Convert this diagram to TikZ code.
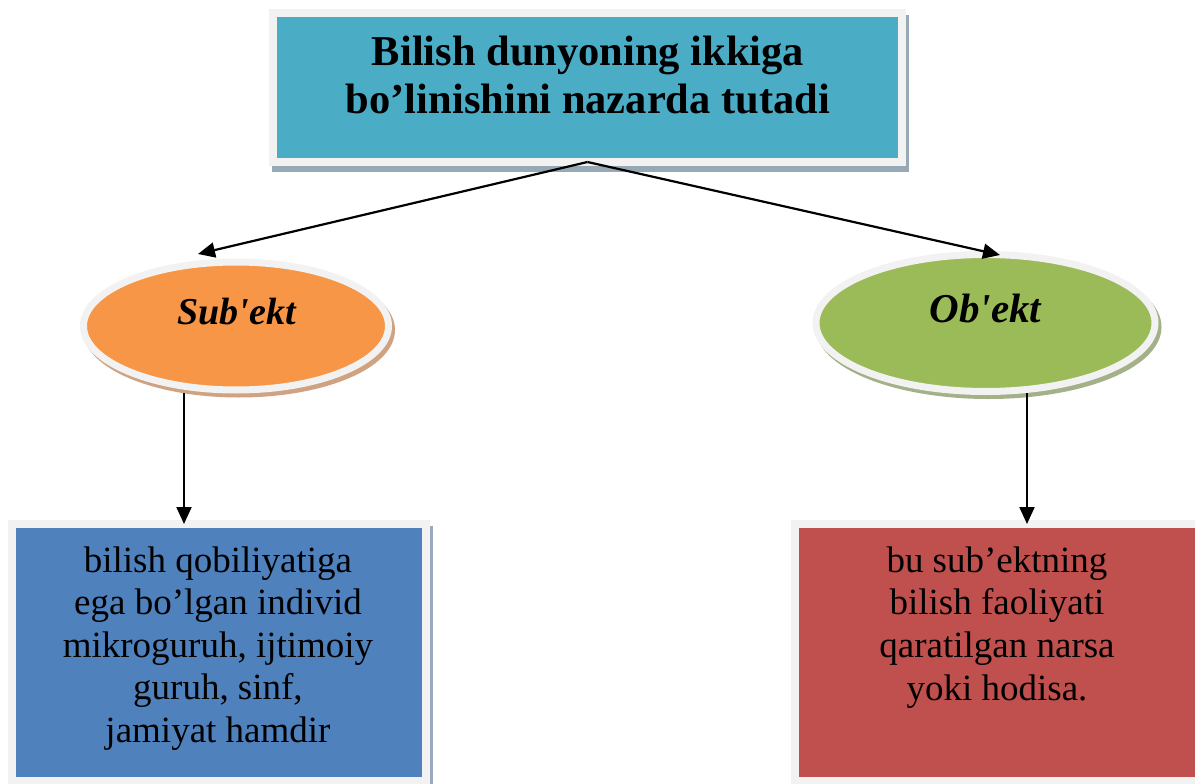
\documentclass[tikz,border=0pt]{standalone}
\usepackage{fontspec}
\newfontfamily\lserif{Liberation Serif}
\usetikzlibrary{shapes.geometric,shadows,arrows.meta}
\definecolor{topfill}{HTML}{4BACC6}
\definecolor{rim}{HTML}{F2F2F2}
\definecolor{topshadow}{HTML}{97A9B5}
\definecolor{orangefill}{HTML}{F79646}
\definecolor{orangeshadow}{HTML}{CFA382}
\definecolor{greenfill}{HTML}{9BBB59}
\definecolor{greenshadow}{HTML}{A3B088}
\definecolor{bluefill}{HTML}{4F81BD}
\definecolor{blueshadow}{HTML}{9AA9BE}
\definecolor{redfill}{HTML}{C0504D}
\tikzset{
  boxshape/.style={rectangle, draw=rim, line width=8pt, outer sep=0pt, inner sep=0pt},
  ovalshape/.style={ellipse, draw=rim, line width=7pt, outer sep=0pt, inner sep=0pt},
  txt/.style={inner sep=0pt, outer sep=0pt, align=center},
  arr/.style={line width=2.2pt, -{Triangle[length=17pt,width=15pt]}},
  myshadow/.style 2 args={drop shadow={shadow xshift=3pt, shadow yshift=-#2, opacity=1, fill=#1, draw=#1}},
}
\begin{document}
\begin{tikzpicture}[x=1pt,y=-1pt]
\useasboundingbox (0,0) rectangle (1195,784);
\clip (0,0) rectangle (1195,784);
\fill[white] (0,0) rectangle (1195,784);

% top box
\node[boxshape, fill=topfill, minimum width=629pt, minimum height=149pt,
      myshadow={topshadow}{6pt}] (top) at (587.5,87.5) {};
\node[txt, font=\lserif\bfseries\fontsize{42.5}{48}\selectfont] (toptext) at (588,75)
  {Bilish dunyoning ikkiga\\bo’linishini nazarda tutadi};

% ellipses
\node[ovalshape, fill=orangefill, minimum width=305pt, minimum height=128pt,
      myshadow={orangeshadow}{4pt}] (sub) at (236,326) {};
\node[txt, font=\lserif\bfseries\itshape\fontsize{38}{44}\selectfont] (subtext) at (236.5,312) {Sub'ekt};

\node[ovalshape, fill=greenfill, minimum width=339pt, minimum height=137pt,
      myshadow={greenshadow}{4pt}] (obj) at (985.5,323) {};
\node[txt, font=\lserif\bfseries\itshape\fontsize{41}{47}\selectfont] (objtext) at (985.5,309) {Ob'ekt};

% bottom boxes
\node[boxshape, fill=bluefill, minimum width=414pt, minimum height=257pt,
      myshadow={blueshadow}{6pt}] (bl) at (219,652.5) {};
\node[txt, font=\lserif\fontsize{37}{42.5}\selectfont] (bltext) at (218,648.3)
  {bilish qobiliyatiga\\ega bo’lgan individ\\mikroguruh, ijtimoiy\\guruh, sinf,\\jamiyat hamdir};

\node[boxshape, fill=redfill, minimum width=408pt, minimum height=257pt] (rb) at (999,652.5) {};
\node[txt, font=\lserif\fontsize{37}{42.7}\selectfont] (rbtext) at (997,627.4)
  {bu sub’ektning\\bilish faoliyati\\qaratilgan narsa\\yoki hodisa.};

% connectors
\draw[arr] (top.south) -- ([shift={(-38,-72)}]sub.center);
\draw[arr] (top.south) -- ([shift={(14.5,-68)}]obj.center);
\draw[arr] ([shift={(-52,67)}]sub.center) -- ([xshift=-35pt]bl.north);
\draw[arr] ([shift={(41.5,70)}]obj.center) -- ([xshift=28pt]rb.north);
\end{tikzpicture}
\end{document}
